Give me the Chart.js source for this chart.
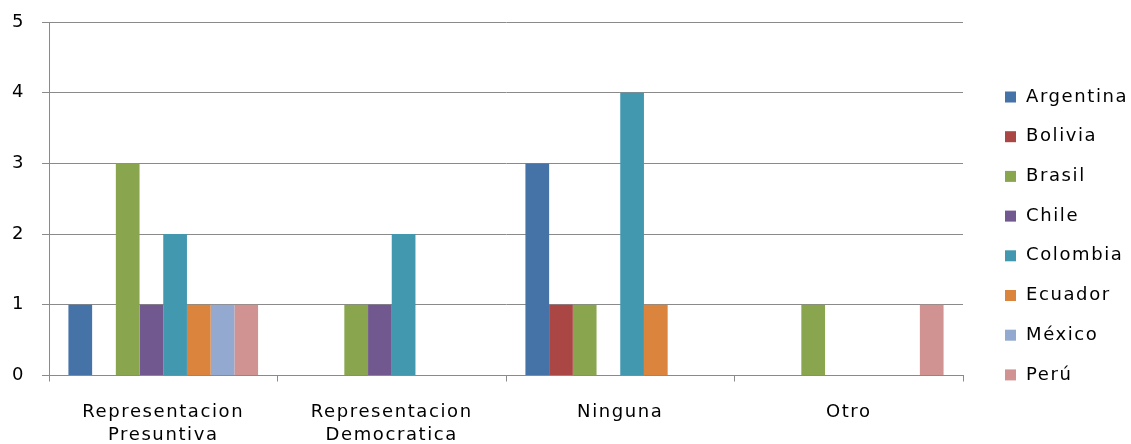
<!DOCTYPE html>
<html>
<head>
<meta charset="utf-8">
<script src="https://cdn.jsdelivr.net/npm/chart.js@4/dist/chart.umd.min.js"></script>
<style>
  html, body { margin: 0; padding: 0; background: #ffffff; }
  #wrap { width: 1131px; height: 444px; position: relative; }
</style>
</head>
<body>
<div id="wrap"><canvas id="chart" width="1131" height="444"></canvas></div>
<script>
// Response categories (two-line labels)
const categories = [
  ['Representacion', 'Presuntiva'],
  ['Representacion', 'Democratica'],
  ['Ninguna'],
  ['Otro']
];

// Counts per country, one value per category
const argentina = [1, 0, 3, 0];
const bolivia   = [0, 0, 1, 0];
const brasil    = [3, 1, 1, 1];
const chile     = [1, 1, 0, 0];
const colombia  = [2, 2, 4, 0];
const ecuador   = [1, 0, 1, 0];
const mexico    = [1, 0, 0, 0];
const peru      = [1, 0, 0, 1];

const countries = ['Argentina', 'Bolivia', 'Brasil', 'Chile', 'Colombia', 'Ecuador', 'México', 'Perú'];
const seriesValues = [argentina, bolivia, brasil, chile, colombia, ecuador, mexico, peru];
const seriesColors = ['#4572A7', '#AA4643', '#89A54E', '#71588F', '#4198AF', '#DB843D', '#93A9CF', '#D19392'];

const yTicks = [0, 1, 2, 3, 4, 5];

const FONT = 'DejaVu Sans';
const FONT_SIZE = 18;
const GRID = '#8a8a8a';
const SPACING = '1.6px';

// Spaced lettering for all canvas text (re-applied because a canvas resize resets the context)
const spacingPlugin = {
  id: 'letterSpacing',
  beforeUpdate(chart) { chart.ctx.letterSpacing = SPACING; },
  beforeDraw(chart) { chart.ctx.letterSpacing = SPACING; }
};

// Legend drawn as a column to the right of the plot
const sideLegend = {
  id: 'sideLegend',
  afterDraw(chart) {
    const ctx = chart.ctx;
    const area = chart.chartArea;
    const x0 = area.right + 42;
    const y0 = 97;
    const step = 39.7;
    ctx.save();
    ctx.letterSpacing = SPACING;
    ctx.font = FONT_SIZE + 'px "' + FONT + '"';
    ctx.textBaseline = 'middle';
    ctx.textAlign = 'left';
    chart.data.datasets.forEach((ds, i) => {
      const yc = y0 + i * step;
      ctx.fillStyle = ds.backgroundColor;
      ctx.fillRect(x0, yc - 5.5, 11, 11);
      ctx.fillStyle = '#000000';
      ctx.fillText(ds.label, x0 + 21, yc);
    });
    ctx.restore();
  }
};

const datasets = countries.map((name, i) => ({
  label: name,
  data: seriesValues[i],
  backgroundColor: seriesColors[i],
  borderWidth: 0,
  categoryPercentage: 0.83,
  barPercentage: 1.0
}));

new Chart(document.getElementById('chart'), {
  type: 'bar',
  data: { labels: categories, datasets },
  plugins: [spacingPlugin, sideLegend],
  options: {
    responsive: false,
    animation: false,
    layout: { padding: { top: 22, right: 168, left: 0, bottom: 0 } },
    plugins: {
      legend: { display: false },
      tooltip: { enabled: false }
    },
    scales: {
      x: {
        offset: true,
        grid: {
          offset: true,
          drawOnChartArea: false,
          drawTicks: true,
          tickLength: 6,
          color: GRID
        },
        border: { display: true, color: GRID, width: 1 },
        ticks: {
          color: '#000000',
          padding: 19,
          maxRotation: 0,
          autoSkip: false,
          font: { family: FONT, size: FONT_SIZE, lineHeight: '23px' }
        },
        afterFit(scale) { scale.height = 68.5; }
      },
      y: {
        min: 0,
        max: 5,
        afterBuildTicks(scale) { scale.ticks = yTicks.map(v => ({ value: v })); },
        grid: {
          color: GRID,
          lineWidth: 1,
          drawTicks: true,
          tickLength: 7
        },
        border: { display: true, color: GRID, width: 1 },
        ticks: {
          color: '#000000',
          padding: 17,
          font: { family: FONT, size: FONT_SIZE }
        },
        afterFit(scale) {
          scale.width = 49;
          scale.paddingTop = 0;
          scale.paddingBottom = 0;
        }
      }
    }
  }
});
</script>
</body>
</html>
